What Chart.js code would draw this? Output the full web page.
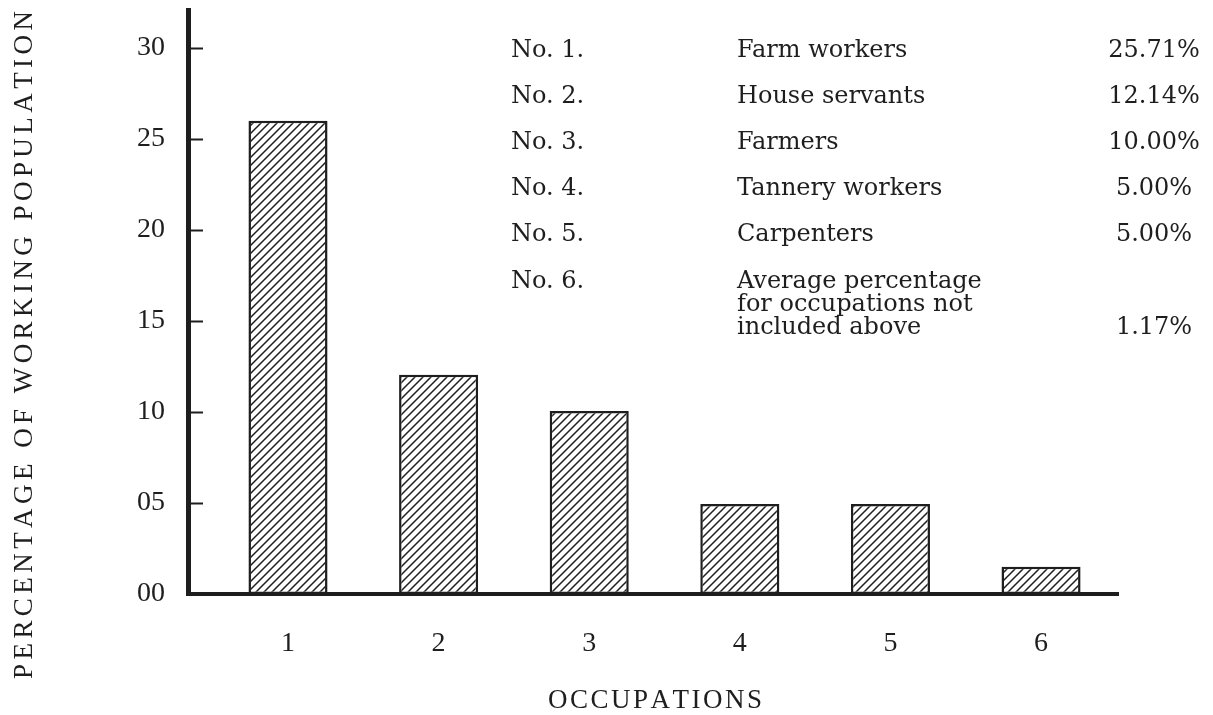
<!DOCTYPE html>
<html>
<head>
<meta charset="utf-8">
<script src="https://cdn.jsdelivr.net/npm/chart.js@4"></script>
<style>
  body { margin: 0; background: #fff; }
  canvas { display: block; }
</style>
</head>
<body>
<canvas id="occChart" width="1213" height="715"></canvas>
<script>
// Chart data
const occupations = [1, 2, 3, 4, 5, 6];
const percentOfPopulation = [26.0, 12.05, 10.05, 4.95, 4.95, 1.5];
const yTicks = [0, 5, 10, 15, 20, 25, 30];

// Key table
const keyNumbers = ['No. 1.', 'No. 2.', 'No. 3.', 'No. 4.', 'No. 5.', 'No. 6.'];
const keyNames = [
    ['Farm workers'],
    ['House servants'],
    ['Farmers'],
    ['Tannery workers'],
    ['Carpenters'],
    ['Average percentage', 'for occupations not', 'included above']
];
const keyShares = ['25.71%', '12.14%', '10.00%', '5.00%', '5.00%', '1.17%'];

const yTitle = 'PERCENTAGE OF WORKING POPULATION';
const xTitle = 'OCCUPATIONS';

const INK = '#1e1e1e';
const SERIF = '"Liberation Serif", "Times New Roman", serif';
const WIDE_SERIF = '"DejaVu Serif", "Liberation Serif", serif';

function hatchPattern() {
    const size = 8;
    const c = document.createElement('canvas');
    c.width = size;
    c.height = size;
    const g = c.getContext('2d');
    g.fillStyle = '#fff';
    g.fillRect(0, 0, size, size);
    g.strokeStyle = INK;
    g.lineWidth = 1.5;
    g.beginPath();
    // "/" stripes
    g.moveTo(-2, size + 2); g.lineTo(size + 2, -2);
    g.moveTo(-2, 2); g.lineTo(2, -2);
    g.moveTo(size - 2, size + 2); g.lineTo(size + 2, size - 2);
    g.stroke();
    return g.createPattern(c, 'repeat');
}

// spread text over a given length, centred on (0,0)
function spacedText(ctx, text, length) {
    const chars = [...text];
    const widths = chars.map(ch => ctx.measureText(ch).width);
    const plain = widths.reduce((a, b) => a + b, 0);
    const spacing = (length - plain) / (chars.length - 1);
    let x = -length / 2;
    chars.forEach((ch, i) => {
        ctx.fillText(ch, x, 0);
        x += widths[i] + spacing;
    });
}

const decorations = {
    id: 'decorations',
    afterDraw(chart) {
        const ctx = chart.ctx;
        const area = chart.chartArea;
        const yScale = chart.scales.y;
        ctx.save();

        // inner tick marks on the y axis
        ctx.strokeStyle = INK;
        ctx.lineWidth = 2;
        yTicks.slice(1).forEach(v => {
            const py = Math.round(yScale.getPixelForValue(v)) + 0.5;
            ctx.beginPath();
            ctx.moveTo(area.left, py);
            ctx.lineTo(area.left + 15, py);
            ctx.stroke();
        });

        // axis titles
        ctx.fillStyle = INK;
        ctx.textAlign = 'left';
        ctx.textBaseline = 'alphabetic';
        ctx.font = '27px ' + SERIF;
        ctx.save();
        ctx.translate(32, 345);
        ctx.rotate(-Math.PI / 2);
        spacedText(ctx, yTitle, 668);
        ctx.restore();

        ctx.save();
        ctx.translate(655, 708);
        spacedText(ctx, xTitle, 214);
        ctx.restore();

        // key table
        ctx.font = '24px ' + WIDE_SERIF;
        const rowBase = [57, 103, 149, 195, 241, 288];
        keyNumbers.forEach((no, i) => {
            const y = rowBase[i];
            ctx.textAlign = 'left';
            ctx.fillText(no, 511, y);
            keyNames[i].forEach((line, j) => {
                ctx.fillText(line, 737, y + j * 23);
            });
            ctx.textAlign = 'center';
            ctx.fillText(keyShares[i], 1154, y + (keyNames[i].length - 1) * 23);
        });
        ctx.restore();
    }
};

const ctx = document.getElementById('occChart').getContext('2d');
new Chart(ctx, {
    type: 'bar',
    data: {
        datasets: [{
            data: occupations.map((o, i) => ({ x: o, y: percentOfPopulation[i] })),
            backgroundColor: hatchPattern(),
            borderColor: INK,
            borderWidth: 2.5,
            borderSkipped: false,
            barPercentage: 0.525,
            categoryPercentage: 1
        }]
    },
    options: {
        responsive: false,
        animation: false,
        events: [],
        layout: {
            padding: { left: 0, top: 10, right: 95, bottom: 0 }
        },
        plugins: {
            legend: { display: false },
            tooltip: { enabled: false }
        },
        scales: {
            x: {
                type: 'linear',
                offset: false,
                min: 0.336,
                max: 6.511,
                afterBuildTicks: scale => {
                    scale.ticks = occupations.map(v => ({ value: v }));
                },
                afterFit: scale => {
                    scale.height = 715 - 594;
                    scale.paddingLeft = 0;
                    scale.paddingRight = 0;
                },
                grid: { display: false, drawTicks: false, offset: false },
                border: { display: true, color: INK, width: 4 },
                ticks: {
                    padding: 33,
                    color: INK,
                    font: { family: SERIF, size: 28 },
                    callback: v => String(v)
                }
            },
            y: {
                min: 0,
                max: 32.09,
                afterBuildTicks: scale => {
                    scale.ticks = yTicks.map(v => ({ value: v }));
                },
                afterFit: scale => {
                    scale.width = 188;
                    scale.paddingTop = 0;
                    scale.paddingBottom = 0;
                },
                grid: { display: false, drawTicks: false },
                border: { display: true, color: INK, width: 5 },
                ticks: {
                    padding: 23,
                    color: INK,
                    font: { family: SERIF, size: 28 },
                    callback: v => (v < 10 ? '0' + v : String(v))
                }
            }
        }
    },
    plugins: [decorations]
});
</script>
</body>
</html>
